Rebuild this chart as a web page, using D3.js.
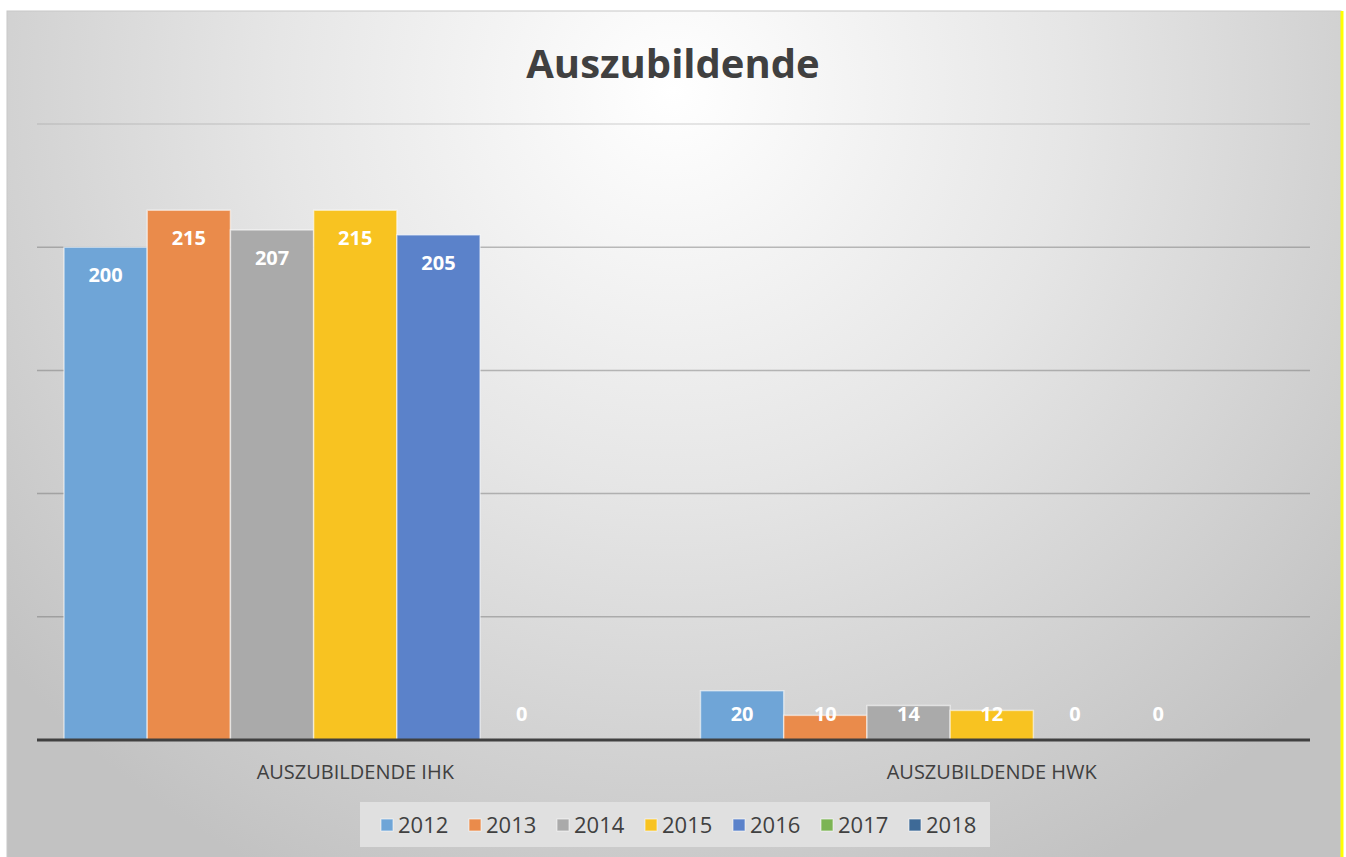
<!DOCTYPE html>
<html><head><meta charset="utf-8">
<script src="https://cdn.jsdelivr.net/npm/d3@7"></script>
<style>html,body{margin:0;padding:0;background:#fff;overflow:hidden}</style>
</head><body>
<svg id="chart" width="1346" height="857"></svg>
<script>
const title = "Auszubildende";
const categories = ["AUSZUBILDENDE IHK", "AUSZUBILDENDE HWK"];
const years = ["2012", "2013", "2014", "2015", "2016", "2017", "2018"];
const valuesIHK = [200, 215, 207, 215, 205, 0, null];
const valuesHWK = [20, 10, 14, 12, 0, 0, null];
const yTicks = [0, 50, 100, 150, 200, 250];
const colors = ["#6fa5d7", "#ea8b4b", "#aaaaaa", "#f8c321", "#5b82ca", "#7cb454", "#3e6a97"];

(function () {
const seriesByCat = [valuesIHK, valuesHWK];
const svg = d3.select("#chart");
const defs = svg.append("defs");
const grad = defs.append("radialGradient").attr("id","bg").attr("gradientUnits","userSpaceOnUse")
  .attr("cx",673).attr("cy",90).attr("r",880).attr("fx",673).attr("fy",90);
grad.append("stop").attr("offset","0").attr("stop-color","#ffffff");
grad.append("stop").attr("offset","0.45").attr("stop-color","#e6e6e6");
grad.append("stop").attr("offset","1").attr("stop-color","#c2c2c2");

svg.append("rect").attr("x",7).attr("y",11).attr("width",1334).attr("height",850)
  .attr("fill","url(#bg)").attr("stroke","#c8c8c8").attr("stroke-width",1);
svg.append("line").attr("x1",1342).attr("x2",1342).attr("y1",11).attr("y2",857)
  .attr("stroke","#ffff00").attr("stroke-width",3);

const pLeft = 37, pRight = 1310, pTop = 124, pBottom = 740;
const y = d3.scaleLinear().domain([0, 250]).range([pBottom, pTop]);
const x0 = d3.scaleBand().domain(categories).range([pLeft, pRight]);
const x1 = d3.scaleBand().domain(years).range([27, x0.bandwidth() - 27]);

svg.append("g").selectAll("line").data(yTicks.filter(d => d > 0)).join("line")
  .attr("x1", pLeft).attr("x2", pRight)
  .attr("y1", d => y(d)).attr("y2", d => y(d))
  .attr("stroke", d => d === 250 ? "rgba(150,150,150,0.3)" : "rgba(110,110,110,0.45)")
  .attr("stroke-width", 1.5);

svg.append("text").attr("x", 673).attr("y", 78).attr("text-anchor","middle")
  .attr("font-family","'Open Sans', sans-serif").attr("font-weight","bold")
  .attr("font-size", 40).attr("fill","#404040").text(title);

const groups = svg.append("g").selectAll("g").data(categories).join("g")
  .attr("transform", d => `translate(${x0(d)},0)`);
groups.each(function(cat, ci) {
  const g = d3.select(this);
  const data = years.map((yr, i) => ({yr, i, v: seriesByCat[ci][i]})).filter(d => d.v !== null);
  g.selectAll("rect").data(data.filter(d => d.v > 0)).join("rect")
    .attr("x", d => x1(d.yr)).attr("width", x1.bandwidth())
    .attr("y", d => y(d.v)).attr("height", d => y(0) - y(d.v))
    .attr("fill", d => colors[d.i])
    .attr("stroke", "rgba(255,255,255,0.55)").attr("stroke-width", 1.5);
  g.selectAll("text").data(data).join("text")
    .attr("x", d => x1(d.yr) + x1.bandwidth()/2)
    .attr("y", d => Math.min(y(d.v) + 28, y(0) - 26))
    .attr("dy", "0.35em").attr("text-anchor","middle")
    .attr("font-family","'Open Sans', sans-serif").attr("font-weight","bold")
    .attr("font-size", 20).attr("fill","#ffffff").text(d => d.v);
});

svg.append("line").attr("x1", pLeft).attr("x2", pRight).attr("y1", y(0)).attr("y2", y(0))
  .attr("stroke","#404040").attr("stroke-width",3);

svg.append("g").selectAll("text").data(categories).join("text")
  .attr("x", d => x0(d) + x0.bandwidth()/2).attr("y", 779)
  .attr("text-anchor","middle").attr("font-family","'Open Sans', sans-serif")
  .attr("font-size", 20).attr("fill","#404040").text(d => d);

const lg = svg.append("g");
lg.append("rect").attr("x",360).attr("y",802).attr("width",630).attr("height",45).attr("fill","#e0e0e0");
const items = lg.selectAll("g").data(years).join("g")
  .attr("transform", (d,i) => `translate(${381 + i*88},825)`);
items.append("rect").attr("x",0).attr("y",-6).attr("width",12).attr("height",12)
  .attr("fill",(d,i) => colors[i]).attr("stroke","rgba(255,255,255,0.6)");
items.append("text").attr("x",17).attr("y",0).attr("dy","0.36em")
  .attr("font-family","'Open Sans', sans-serif").attr("font-size",22).attr("fill","#404040").text(d => d);
})();
</script>
</body></html>
